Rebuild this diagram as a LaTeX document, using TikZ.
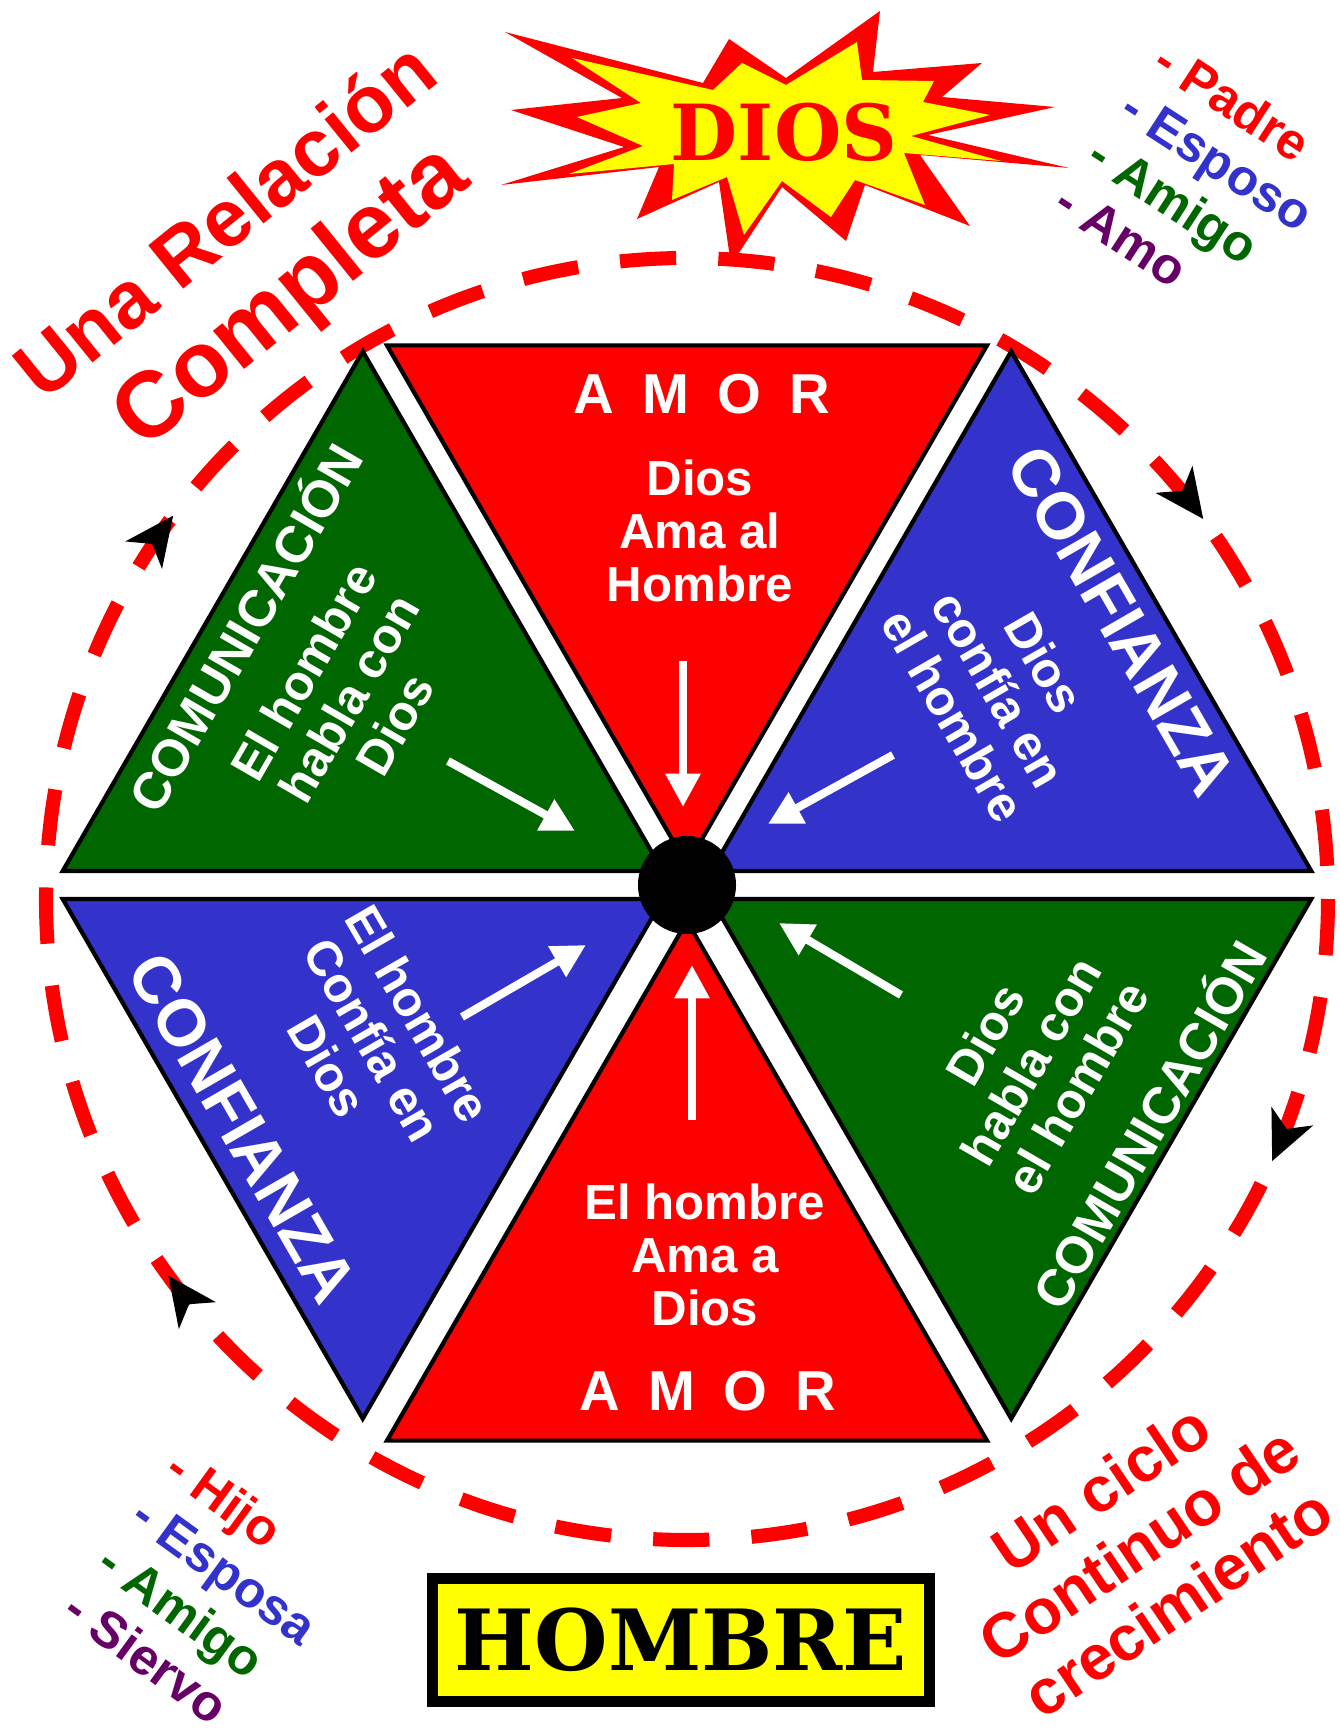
\documentclass[tikz,border=0pt]{standalone}
\usepackage{fontspec}
\setmainfont{Liberation Sans}
\newfontfamily\slabfont{DejaVu Serif}
\usetikzlibrary{arrows.meta,decorations.markings}

\definecolor{amorred}{RGB}{255,0,0}
\definecolor{trustblue}{RGB}{51,51,204}
\definecolor{talkgreen}{RGB}{0,102,0}
\definecolor{servepurple}{RGB}{102,0,102}
\definecolor{burstyellow}{RGB}{255,255,0}

\begin{document}
\begin{tikzpicture}[x=0.01cm,y=0.01cm,
        wedge/.style={draw=black,line width=1.2pt},
        amorword/.style={text=white,font=\bfseries\fontsize{16}{18}\selectfont},
        trustword/.style={text=white,font=\bfseries\fontsize{18.8}{21}\selectfont},
        talkword/.style={text=white,font=\bfseries\fontsize{14.7}{17}\selectfont},
        wedgetext/.style={text=white,align=center,font=\bfseries\fontsize{14}{15}\selectfont},
        inarrow/.style={draw=white,line width=2.3pt,-{Triangle[length=9.5pt,width=9.5pt]}},
        ringline/.style={draw=amorred,line width=4pt,dash pattern=on 16pt off 12pt},
        ringtip/.style={black,solid,line width=0.4pt},
        slogan/.style={text=amorred,align=center,font=\bfseries\fontsize{18}{19.6}\selectfont},
        role/.style={anchor=base west,inner sep=0pt,font=\bfseries\fontsize{14.5}{16}\selectfont}]
    \useasboundingbox (-687,-848) rectangle (653,885);

    \coordinate (ring) at (0,-14);
    \draw[ringline,postaction={decorate},decoration={markings,
            mark=at position 0.067 with {\arrow[ringtip]{Stealth[length=14pt,width=13pt,inset=4pt]}},
            mark=at position 0.400 with {\arrow[ringtip]{Stealth[length=14pt,width=13pt,inset=4pt]}},
            mark=at position 0.602 with {\arrow[ringtip]{Stealth[length=14pt,width=13pt,inset=4pt]}},
            mark=at position 0.899 with {\arrow[ringtip]{Stealth[length=14pt,width=13pt,inset=4pt]}}}]
        (ring) ++(0:641) arc[start angle=0,end angle=-360,radius=641];

    \filldraw[wedge,fill=amorred]   (90:20)  -- ++(60:600)   -- ++(180:600) -- cycle;
    \filldraw[wedge,fill=trustblue] (30:28)  -- ++(0:600)    -- ++(120:600) -- cycle;
    \filldraw[wedge,fill=talkgreen] (-30:28) -- ++(-60:600)  -- ++(60:600)  -- cycle;
    \filldraw[wedge,fill=amorred]   (-90:36) -- ++(-120:600) -- ++(0:600)   -- cycle;
    \filldraw[wedge,fill=trustblue] (210:28) -- ++(180:600)  -- ++(300:600) -- cycle;
    \filldraw[wedge,fill=talkgreen] (150:28) -- ++(120:600)  -- ++(240:600) -- cycle;

    \node[circle,fill=black,minimum size=0.98cm,inner sep=0pt] (hub) at (0,0) {};

    \node[amorword] (amorTop) at (15,491) {A\enspace M\enspace O\enspace R};
    \node[wedgetext] (godLoves) at (13,354) {Dios\\Ama al\\Hombre};
    \node[wedgetext] (manLoves) at (18,-370) {El hombre\\Ama a\\Dios};
    \node[amorword] (amorBottom) at (21,-506) {A\enspace M\enspace O\enspace R};

    \node[talkword,rotate=60] (talkLeft) at (-445,259) {COMUNICACIÓN};
    \node[wedgetext,rotate=60] (manTalks) at (-338,187) {El hombre\\habla con\\Dios};
    \node[trustword,rotate=-60] (trustRight) at (435,264) {CONFIANZA};
    \node[wedgetext,rotate=-60] (godTrusts) at (312,196) {Dios\\confía en\\el hombre};
    \node[trustword,rotate=-60] (trustLeft) at (-444,-243) {CONFIANZA};
    \node[wedgetext,rotate=-60] (manTrusts) at (-314,-155) {El hombre\\Confía en\\Dios};
    \node[talkword,rotate=60] (talkRight) at (459,-238) {COMUNICACIÓN};
    \node[wedgetext,rotate=60] (godTalks) at (344,-176) {Dios\\habla con\\el hombre};

    \coordinate (loveDownFrom) at (-4,224);    \coordinate (loveDownTo) at (-4,78);
    \coordinate (loveUpFrom) at (5,-235);      \coordinate (loveUpTo) at (5,-80);
    \coordinate (talkInFrom) at (-239,124);    \coordinate (talkInTo) at (-112,54);
    \coordinate (talkOutFrom) at (214,-110);   \coordinate (talkOutTo) at (92,-38);
    \coordinate (trustInFrom) at (-225,-132);  \coordinate (trustInTo) at (-101,-60);
    \coordinate (trustOutFrom) at (206,130);   \coordinate (trustOutTo) at (81,61);
    \draw[inarrow] (loveDownFrom) -- (loveDownTo);
    \draw[inarrow] (loveUpFrom) -- (loveUpTo);
    \draw[inarrow] (talkInFrom) -- (talkInTo);
    \draw[inarrow] (talkOutFrom) -- (talkOutTo);
    \draw[inarrow] (trustInFrom) -- (trustInTo);
    \draw[inarrow] (trustOutFrom) -- (trustOutTo);

    \fill[amorred] (-182,853) -- (16,802) -- (42,846) -- (99,807) -- (193,874) -- (186,813)
        -- (295,822) -- (255,788) -- (368,778) -- (241,750) -- (382,717) -- (233,730)
        -- (283,659) -- (178,700) -- (159,644) -- (95,698) -- (44,620) -- (32,703)
        -- (-50,666) -- (-28,718) -- (-186,700) -- (-63,738) -- (-176,775) -- (-65,787) -- cycle;
    \fill[burstyellow] (-115,827) -- (26,795) -- (55,822) -- (99,800) -- (170,843) -- (175,805)
        -- (247,804) -- (236,783) -- (303,770) -- (224,749) -- (314,724) -- (217,732)
        -- (238,680) -- (168,705) -- (144,668) -- (95,704) -- (57,650) -- (40,708)
        -- (-15,685) -- (-13,721) -- (-118,711) -- (-44,739) -- (-110,768) -- (-46,782) -- cycle;
    \node[text=amorred,font=\slabfont\bfseries\fontsize{22}{24}\selectfont] (dios) at (97,753) {DIOS};

    \node[draw=black,fill=burstyellow,line width=3.2pt,minimum width=4.96cm,minimum height=1.23cm,
          inner sep=0pt,font=\slabfont\bfseries\fontsize{24}{26}\selectfont] (hombre) at (-6,-755) {HOMBRE};

    \node[text=amorred,rotate=39,font=\bfseries\fontsize{23}{26}\selectfont] (relTitle) at (-463,666) {Una Relación};
    \node[text=amorred,rotate=39,font=\bfseries\fontsize{26.5}{29}\selectfont] (relWord) at (-394,586) {Completa};
    \node[slogan,rotate=34] (cycleText) at (452,-660) {Un ciclo\\Continuo de\\crecimiento};

    \node[role,rotate=-33,text=amorred] (padre) at (463,816) {- Padre};
    \node[role,rotate=-33,text=trustblue] (esposo) at (430,769) {- Esposo};
    \node[role,rotate=-33,text=talkgreen] (amigoTop) at (397,722) {- Amigo};
    \node[role,rotate=-33,text=servepurple] (amo) at (364,675) {- Amo};

    \node[role,rotate=-36,text=amorred] (hijo) at (-525,-590) {- Hijo};
    \node[role,rotate=-36,text=trustblue] (esposa) at (-559,-637) {- Esposa};
    \node[role,rotate=-36,text=talkgreen] (amigoBottom) at (-593,-684) {- Amigo};
    \node[role,rotate=-36,text=servepurple] (siervo) at (-627,-731) {- Siervo};
\end{tikzpicture}
\end{document}
